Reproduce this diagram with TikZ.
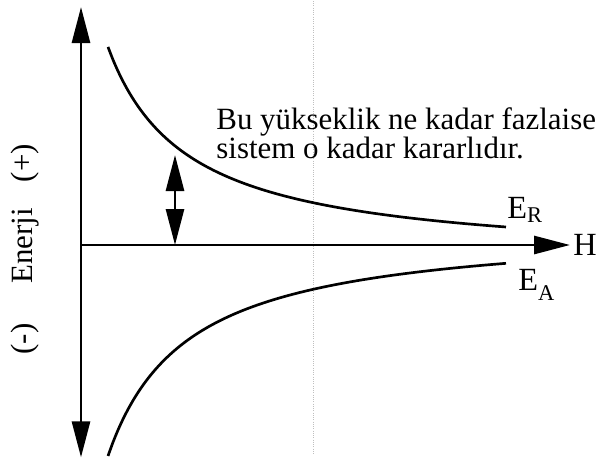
\documentclass[tikz,border=0pt]{standalone}
\usepackage{fontspec}
\setmainfont{Liberation Serif}
\usetikzlibrary{arrows.meta}

\begin{document}
\begin{tikzpicture}[>={Triangle[length=0.9cm,width=0.45cm]}, line width=2pt,
  txt/.style={inner sep=0pt, anchor=base west, font=\fontsize{22}{22}\selectfont},
  lbl/.style={inner sep=0pt, anchor=base west, font=\fontsize{23}{23}\selectfont},
  sub/.style={font=\fontsize{16}{16}\selectfont}]
\useasboundingbox (0,0) rectangle (15.125,11.475);
\draw[gray!50, line width=0.6pt, densely dotted] (7.825,11.45) -- (7.825,0.1);
\coordinate (O) at (2.025,5.35);
\coordinate (ytop) at (2.025,11.3);
\coordinate (ybot) at (2.025,0.04);
\coordinate (hend) at (14.25,5.35);
\coordinate (gapbot) at (4.375,5.35);
\coordinate (gaptop) at (4.375,7.6);
\draw[<->] (ybot) -- (ytop);
\draw[->] (O) -- (hend);
\draw[<->] (gapbot) -- (gaptop);
\draw[line width=1.9pt] plot[domain=2.7:12.65, samples=80, smooth] (\x,{5.35+10.68/(\x-0.721)-0.445});
\draw[line width=1.9pt] plot[domain=2.7:12.65, samples=80, smooth] (\x,{5.35-1.07*10.68/(\x-0.721)+0.5});
\node[lbl] (H) at (14.3,5.1) {H};
\node[lbl] (ER) at (12.65,6.025) {E\raisebox{-0.1cm}{\fontsize{16}{16}\selectfont R}};
\node[lbl] (EA) at (12.925,4.225) {E\raisebox{-0.25cm}{\fontsize{16}{16}\selectfont A}};
\node[txt] (line1) at (5.375,8.25) {Bu yükseklik ne kadar fazlaise};
\node[txt] (line2) at (5.375,7.525) {sistem o kadar kararlıdır.};
\node[txt, anchor=base, rotate=90] (plus) at (0.8,7.4) {(+)};
\node[txt, anchor=base, rotate=90] (enerji) at (0.8,5.325) {Enerji};
\node[txt, anchor=base, rotate=90] (minus) at (0.8,3.0) {(-)};
\end{tikzpicture}
\end{document}
